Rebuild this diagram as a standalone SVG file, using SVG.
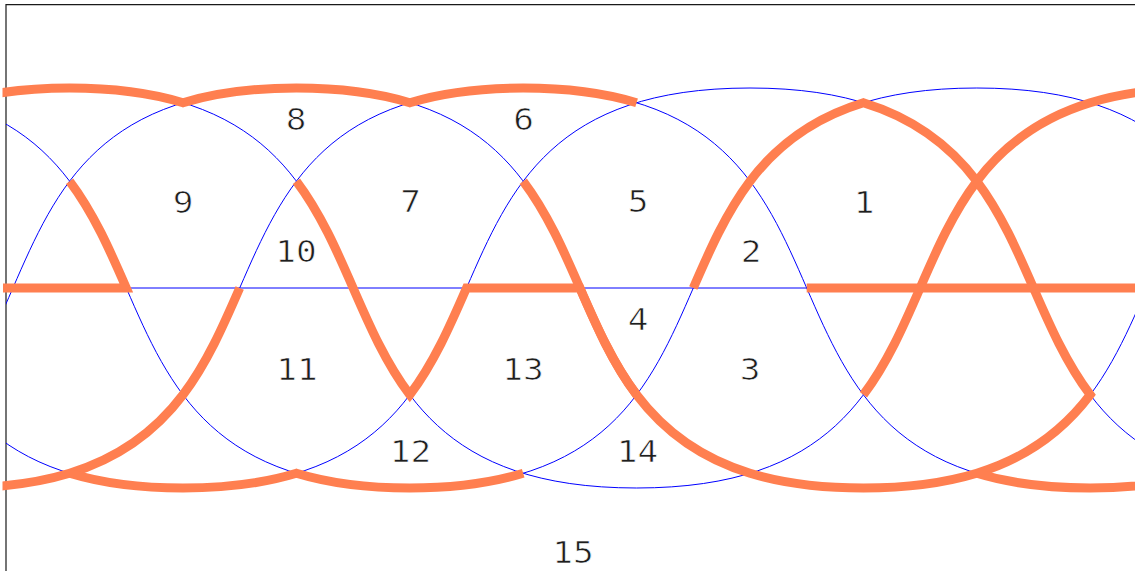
<svg xmlns="http://www.w3.org/2000/svg" width="1135" height="571" viewBox="0 0 1135 571">
<style>
.bl{fill:none;stroke:#0000ff;stroke-width:1}
.or{fill:none;stroke:#ff7f50;stroke-width:9;stroke-linejoin:miter;stroke-miterlimit:4;stroke-linecap:butt}
.fr{fill:none;stroke:#1a1a1a;stroke-width:1.2}
.lb{font-family:"DejaVu Sans Mono","Liberation Mono",monospace;font-size:31px;fill:#1e1e1e;stroke:#ffffff;stroke-width:0.7;text-anchor:middle}
</style>
<defs>
<clipPath id="cb"><rect x="6" y="0" width="1129" height="571"/></clipPath>
<clipPath id="co"><rect x="2.5" y="0" width="1133" height="571"/></clipPath>
</defs>
<rect width="1135" height="571" fill="#ffffff"/>
<g id="frame">
<path class="fr" d="M6,571 V4.6 H1135"/>
</g>
<g id="connectors">
<g id="blue-curves" clip-path="url(#cb)">
<path class="bl" d="M6,288 H1135"/>
<path id="curveA" class="bl" d="M-497.4,488 C-104.4,488 -323.4,88 69.6,88 C462.6,88 243.6,488 636.6,488 C1029.6,488 810.6,88 1203.6,88"/>
<path id="curveB" class="bl" d="M-270.6,488 C122.4,488 -96.6,88 296.4,88 C689.4,88 470.4,488 863.4,488 C1256.4,488 1037.4,88 1430.4,88"/>
<path id="curveC" class="bl" d="M-43.8,488 C349.2,488 130.2,88 523.2,88 C916.2,88 697.2,488 1090.2,488 C1483.2,488 1264.2,88 1657.2,88"/>
<path id="curveD" class="bl" d="M-384,88 C9,88 -210,488 183,488 C576,488 357,88 750,88 C1143,88 924,488 1317,488"/>
<path id="curveE" class="bl" d="M-157.2,88 C235.8,88 16.8,488 409.8,488 C802.8,488 583.8,88 976.8,88 C1369.8,88 1150.8,488 1543.8,488"/>
</g>
<g id="orange-path" clip-path="url(#co)">
<path class="or" d="M-43.8,102.73 C-12.88,93.32 24.29,88 69.6,88 C114.91,88 152.08,93.32 183,102.73 C213.92,93.32 251.09,88 296.4,88 C341.71,88 378.88,93.32 409.8,102.73 C440.72,93.32 477.89,88 523.2,88 C568.51,88 605.68,93.32 636.6,102.73"/>
<path class="or" d="M863.4,394.81 C887.61,362.68 903.86,325.34 920.1,288 C936.34,250.66 952.59,213.32 976.8,181.19 C1002.47,147.11 1037.11,118.89 1090.2,102.73 C1121.12,93.32 1158.29,88 1203.6,88"/>
<path class="or" d="M296.4,181.19 C320.61,213.32 336.86,250.66 353.1,288 C369.34,325.34 385.59,362.68 409.8,394.81 C434.01,362.68 450.26,325.34 466.5,288 L579.9,288 C596.14,325.34 612.39,362.68 636.6,394.81 C662.27,428.89 696.91,457.11 750,473.27 C780.92,482.68 818.09,488 863.4,488 C908.71,488 945.88,482.68 976.8,473.27 C1029.89,457.11 1064.53,428.89 1090.2,394.81 C1065.99,362.68 1049.74,325.34 1033.5,288 C1017.26,250.66 1001.01,213.32 976.8,181.19 C951.13,147.11 916.49,118.89 863.4,102.73 C810.31,118.89 775.67,147.11 750,181.19 C725.79,213.32 709.54,250.66 693.3,288"/>
<path class="or" d="M523.2,181.19 C547.41,213.32 563.66,250.66 579.9,288 C596.14,325.34 612.39,362.68 636.6,394.81"/>
<path class="or" d="M-43.8,488 C1.51,488 38.68,482.68 69.6,473.27 C122.69,457.11 157.33,428.89 183,394.81 C207.21,362.68 223.46,325.34 239.7,288"/>
<path class="or" d="M69.6,473.27 C100.52,482.68 137.69,488 183,488 C228.31,488 265.48,482.68 296.4,473.27 C327.32,482.68 364.49,488 409.8,488 C455.11,488 492.28,482.68 523.2,473.27"/>
<path class="or" d="M976.8,473.27 C1007.72,482.68 1044.89,488 1090.2,488 C1135.51,488 1172.68,482.68 1203.6,473.27"/>
<path class="or" d="M3,288 L126.3,288 C110.06,250.66 93.81,213.32 69.6,181.19"/>
<path class="or" d="M806.7,288 L1140,288"/>
</g>
</g>
<g id="labels">
<text id="r1" class="lb" transform="matrix(1.11 0 0 1 864 213)">1</text>
<text id="r2" class="lb" transform="matrix(1.11 0 0 1 751 262)">2</text>
<text id="r3" class="lb" transform="matrix(1.11 0 0 1 750 380)">3</text>
<text id="r4" class="lb" transform="matrix(1.11 0 0 1 638 330)">4</text>
<text id="r5" class="lb" transform="matrix(1.11 0 0 1 638 212)">5</text>
<text id="r6" class="lb" transform="matrix(1.11 0 0 1 523.5 130)">6</text>
<text id="r7" class="lb" transform="matrix(1.11 0 0 1 410.5 212)">7</text>
<text id="r8" class="lb" transform="matrix(1.11 0 0 1 296 130)">8</text>
<text id="r9" class="lb" transform="matrix(1.11 0 0 1 183 213)">9</text>
<text id="r10" class="lb" transform="matrix(1.11 0 0 1 296 262)">10</text>
<text id="r11" class="lb" transform="matrix(1.11 0 0 1 297 380)">11</text>
<text id="r12" class="lb" transform="matrix(1.11 0 0 1 410.5 462)">12</text>
<text id="r13" class="lb" transform="matrix(1.11 0 0 1 523 380)">13</text>
<text id="r14" class="lb" transform="matrix(1.11 0 0 1 637.5 462)">14</text>
<text id="r15" class="lb" transform="matrix(1.11 0 0 1 573 563)">15</text>
</g>
</svg>
